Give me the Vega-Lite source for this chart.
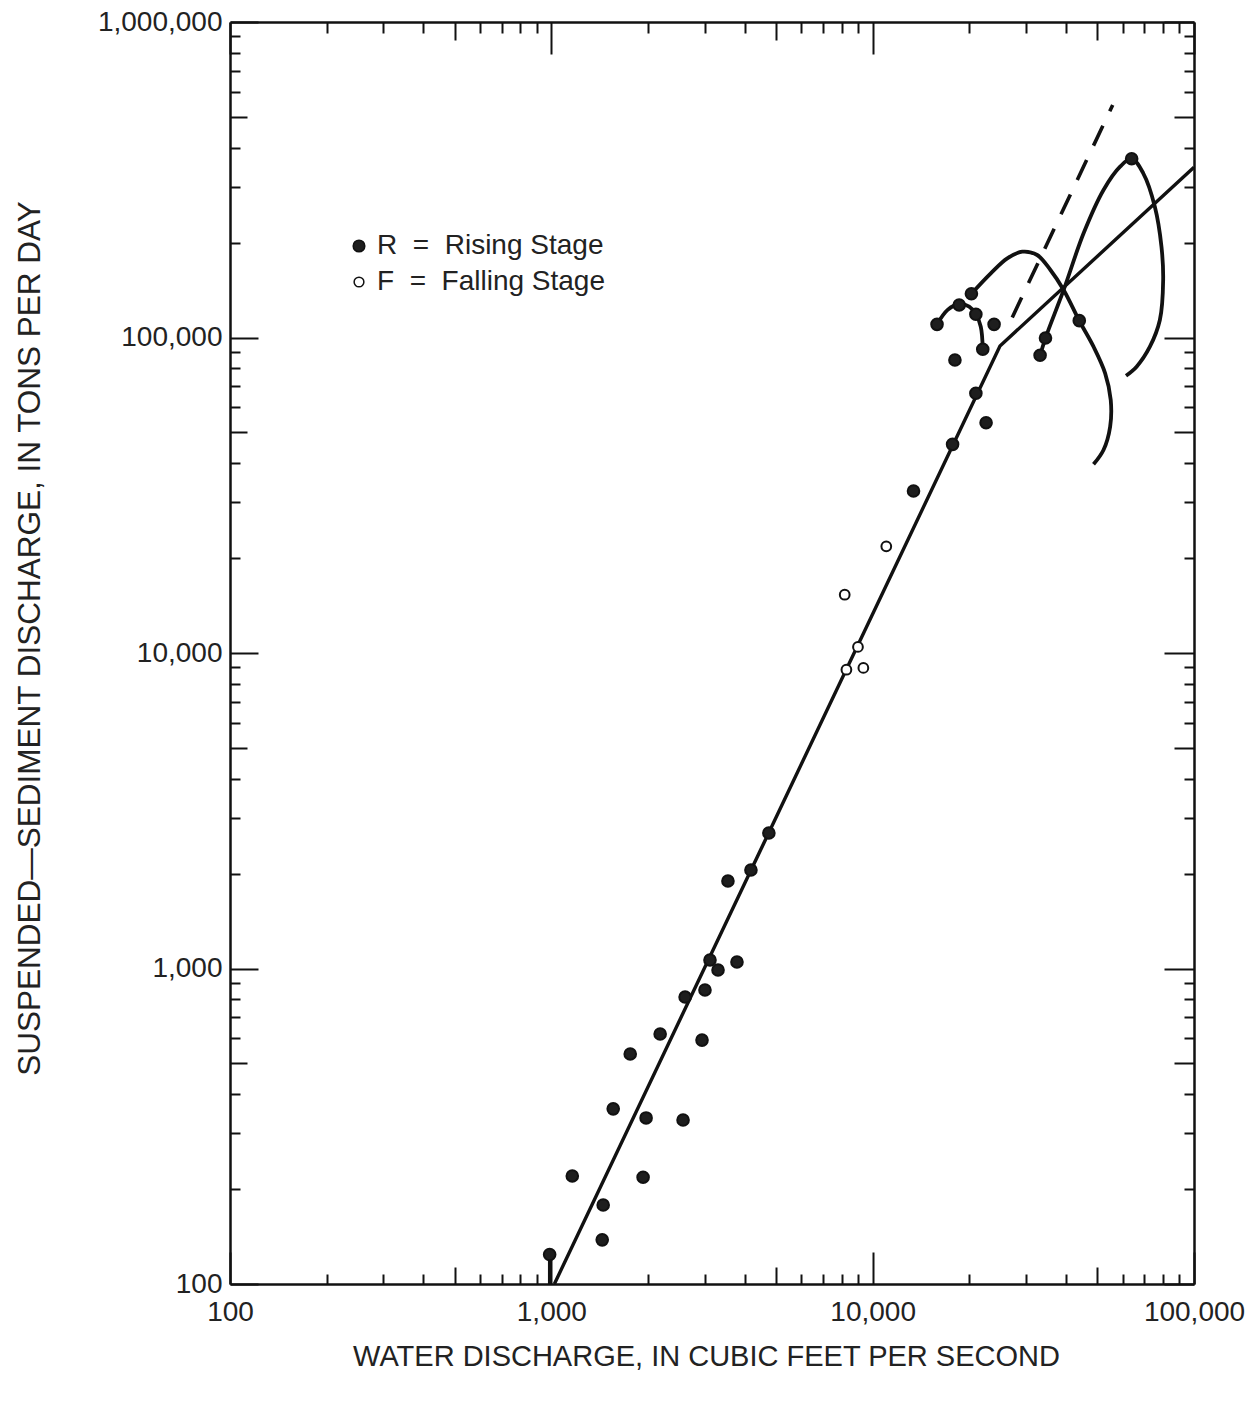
{
  "$schema": "https://vega.github.io/schema/vega-lite/v6.json",
  "width": 964,
  "height": 1262,
  "autosize": "none",
  "padding": {"left": 230, "top": 22, "right": 60, "bottom": 122},
  "background": "white",
  "config": {
    "view": {"stroke": null},
    "font": "Liberation Sans",
    "axis": {
      "grid": false,
      "domainColor": "#111",
      "domainWidth": 2.5,
      "tickColor": "#111",
      "tickWidth": 2,
      "labelColor": "#222",
      "labelFont": "Liberation Sans",
      "labelFontSize": 28,
      "labelFlush": false,
      "labelOverlap": false,
      "labelBound": false,
      "titleFont": "Liberation Sans",
      "titleFontWeight": "normal",
      "titleColor": "#222"
    },
    "legend": {
      "orient": "none",
      "legendX": 115,
      "legendY": 210,
      "padding": 0,
      "labelFont": "Liberation Sans",
      "labelFontSize": 28,
      "labelColor": "#222",
      "labelLimit": 0,
      "labelOffset": 4,
      "rowPadding": 8
    }
  },
  "datasets": {
    "pts": [
      {"q": 988, "s": 124, "stage": "R"},
      {"q": 1162, "s": 220, "stage": "R"},
      {"q": 1450, "s": 178, "stage": "R"},
      {"q": 1440, "s": 138, "stage": "R"},
      {"q": 1558, "s": 359, "stage": "R"},
      {"q": 1760, "s": 536, "stage": "R"},
      {"q": 1930, "s": 218, "stage": "R"},
      {"q": 1972, "s": 336, "stage": "R"},
      {"q": 2181, "s": 620, "stage": "R"},
      {"q": 2570, "s": 331, "stage": "R"},
      {"q": 2608, "s": 812, "stage": "R"},
      {"q": 2944, "s": 593, "stage": "R"},
      {"q": 3007, "s": 855, "stage": "R"},
      {"q": 3117, "s": 1064, "stage": "R"},
      {"q": 3302, "s": 989, "stage": "R"},
      {"q": 3545, "s": 1893, "stage": "R"},
      {"q": 3782, "s": 1049, "stage": "R"},
      {"q": 4180, "s": 2052, "stage": "R"},
      {"q": 4753, "s": 2688, "stage": "R"},
      {"q": 13400, "s": 32620, "stage": "R"},
      {"q": 17730, "s": 45860, "stage": "R"},
      {"q": 15860, "s": 110100, "stage": "R"},
      {"q": 18590, "s": 126800, "stage": "R"},
      {"q": 20290, "s": 137600, "stage": "R"},
      {"q": 20950, "s": 118500, "stage": "R"},
      {"q": 23870, "s": 110100, "stage": "R"},
      {"q": 22010, "s": 91750, "stage": "R"},
      {"q": 18030, "s": 84850, "stage": "R"},
      {"q": 20950, "s": 66550, "stage": "R"},
      {"q": 22540, "s": 53700, "stage": "R"},
      {"q": 34500, "s": 99600, "stage": "R"},
      {"q": 33190, "s": 87830, "stage": "R"},
      {"q": 43950, "s": 113100, "stage": "R"},
      {"q": 63970, "s": 368700, "stage": "R"},
      {"q": 11025, "s": 21780, "stage": "F"},
      {"q": 8185, "s": 15300, "stage": "F"},
      {"q": 9000, "s": 10450, "stage": "F"},
      {"q": 8285, "s": 8850, "stage": "F"},
      {"q": 9355, "s": 8966, "stage": "F"}
    ],
    "fit": [
      {"q": 1022, "s": 100, "g": "fit", "i": 0},
      {"q": 24900, "s": 93980, "g": "fit", "i": 1},
      {"q": 100000, "s": 346300, "g": "fit", "i": 2},
      {"q": 988, "s": 100, "g": "stem", "i": 0},
      {"q": 988, "s": 124, "g": "stem", "i": 1}
    ],
    "dash": [
      {"q": 27190, "s": 115800, "i": 0},
      {"q": 55850, "s": 545700, "i": 1}
    ],
    "loops": [
      {"q": 15860, "s": 110100, "g": "A", "i": 0},
      {"q": 17110, "s": 122300, "g": "A", "i": 1},
      {"q": 18590, "s": 127700, "g": "A", "i": 2},
      {"q": 19970, "s": 125200, "g": "A", "i": 3},
      {"q": 20950, "s": 118500, "g": "A", "i": 4},
      {"q": 21700, "s": 108200, "g": "A", "i": 5},
      {"q": 22010, "s": 91750, "g": "A", "i": 6},
      {"q": 20290, "s": 137700, "g": "B", "i": 0},
      {"q": 23310, "s": 159800, "g": "B", "i": 1},
      {"q": 26240, "s": 178200, "g": "B", "i": 2},
      {"q": 29200, "s": 187100, "g": "B", "i": 3},
      {"q": 32500, "s": 182600, "g": "B", "i": 4},
      {"q": 35750, "s": 163700, "g": "B", "i": 5},
      {"q": 39300, "s": 141500, "g": "B", "i": 6},
      {"q": 43950, "s": 113000, "g": "B", "i": 7},
      {"q": 48680, "s": 93500, "g": "B", "i": 8},
      {"q": 52910, "s": 77000, "g": "B", "i": 9},
      {"q": 55070, "s": 63380, "g": "B", "i": 10},
      {"q": 54830, "s": 52150, "g": "B", "i": 11},
      {"q": 52280, "s": 44000, "g": "B", "i": 12},
      {"q": 48680, "s": 39640, "g": "B", "i": 13},
      {"q": 33200, "s": 87830, "g": "C", "i": 0},
      {"q": 34500, "s": 99630, "g": "C", "i": 1},
      {"q": 39300, "s": 141500, "g": "C", "i": 2},
      {"q": 45330, "s": 213900, "g": "C", "i": 3},
      {"q": 52280, "s": 293400, "g": "C", "i": 4},
      {"q": 58880, "s": 347800, "g": "C", "i": 5},
      {"q": 63960, "s": 368700, "g": "C", "i": 6},
      {"q": 69530, "s": 331400, "g": "C", "i": 7},
      {"q": 75540, "s": 259800, "g": "C", "i": 8},
      {"q": 79210, "s": 194000, "g": "C", "i": 9},
      {"q": 80170, "s": 152200, "g": "C", "i": 10},
      {"q": 78300, "s": 113600, "g": "C", "i": 11},
      {"q": 72900, "s": 93500, "g": "C", "i": 12},
      {"q": 66280, "s": 80830, "g": "C", "i": 13},
      {"q": 61440, "s": 75650, "g": "C", "i": 14}
    ]
  },
  "layer": [
    {
      "encoding": {
        "x": {
          "field": "q", "type": "quantitative",
          "scale": {"type": "log", "domain": [100, 100000], "nice": false},
          "axis": {
            "orient": "bottom",
            "values": [100,200,300,400,500,600,700,800,900,1000,2000,3000,4000,5000,6000,7000,8000,9000,10000,20000,30000,40000,50000,60000,70000,80000,90000,100000],
            "labelExpr": "indexof([100,1000,10000,100000], datum.value) >= 0 ? format(datum.value, ',') : ''",
            "tickSize": {"condition": [{"test": "indexof([100,1000,10000,100000], datum.value) >= 0", "value": -32}, {"test": "indexof([500,5000,50000], datum.value) >= 0", "value": -17}], "value": -10},
            "labelPadding": 46,
            "labelBaseline": "top",
            "title": "WATER DISCHARGE, IN CUBIC FEET PER SECOND",
            "titleFontSize": 29,
            "titleX": 476,
            "titleY": 81,
            "titleBaseline": "alphabetic",
            "titleAnchor": "middle",
            "titleAlign": "center"
          }
        },
        "y": {
          "field": "s", "type": "quantitative",
          "scale": {"type": "log", "domain": [100, 1000000], "nice": false},
          "axis": {
            "orient": "left",
            "values": [100,200,300,400,500,600,700,800,900,1000,2000,3000,4000,5000,6000,7000,8000,9000,10000,20000,30000,40000,50000,60000,70000,80000,90000,100000,200000,300000,400000,500000,600000,700000,800000,900000,1000000],
            "labelExpr": "indexof([100,1000,10000,100000,1000000], datum.value) >= 0 ? format(datum.value, ',') : ''",
            "tickSize": {"condition": [{"test": "indexof([100,1000,10000,100000,1000000], datum.value) >= 0", "value": -28}, {"test": "indexof([500,5000,50000,500000], datum.value) >= 0", "value": -17}], "value": -10},
            "labelPadding": 36,
            "title": "SUSPENDED\u2014SEDIMENT DISCHARGE, IN TONS PER DAY",
            "titleFontSize": 31.5,
            "titleX": -191,
            "titleY": 616,
            "titleAngle": -90,
            "titleBaseline": "alphabetic",
            "titleAlign": "center",
            "titleAnchor": "middle"
          }
        }
      },
      "layer": [
        {
          "data": {"name": "fit"},
          "mark": {"type": "line", "color": "#111", "strokeWidth": 3.4},
          "encoding": {"detail": {"field": "g"}, "order": {"field": "i", "type": "quantitative"}}
        },
        {
          "data": {"name": "dash"},
          "mark": {"type": "line", "color": "#111", "strokeWidth": 3.6, "strokeDash": [22, 16]},
          "encoding": {"order": {"field": "i", "type": "quantitative"}}
        },
        {
          "data": {"name": "loops"},
          "mark": {"type": "line", "color": "#111", "strokeWidth": 3.8, "interpolate": "catmull-rom"},
          "encoding": {"detail": {"field": "g"}, "order": {"field": "i", "type": "quantitative"}}
        },
        {
          "data": {"name": "pts"},
          "mark": {"type": "point", "filled": true, "stroke": "#111", "strokeWidth": 2, "opacity": 1},
          "encoding": {
            "fill": {
              "field": "stage", "type": "nominal",
              "scale": {"domain": ["R", "F"], "range": ["#1e1e1e", "#ffffff"]},
              "legend": {
                "title": null,
                "labelExpr": "datum.label == 'R' ? 'R\u00a0\u00a0=\u00a0\u00a0Rising Stage' : 'F\u00a0\u00a0=\u00a0\u00a0Falling Stage'",
                "encode": {"symbols": {"update": {"stroke": {"value": "#111"}, "strokeWidth": {"value": 1.8}}}}
              }
            },
            "size": {
              "field": "stage", "type": "nominal",
              "scale": {"domain": ["R", "F"], "range": [135, 95]},
              "legend": {
                "title": null,
                "labelExpr": "datum.label == 'R' ? 'R\u00a0\u00a0=\u00a0\u00a0Rising Stage' : 'F\u00a0\u00a0=\u00a0\u00a0Falling Stage'",
                "encode": {"symbols": {"update": {"stroke": {"value": "#111"}, "strokeWidth": {"value": 1.8}}}}
              }
            }
          }
        }
      ]
    },
    {
      "data": {"name": "pts"},
      "mark": {"type": "point", "opacity": 0},
      "encoding": {
        "x": {
          "field": "q", "type": "quantitative",
          "scale": {"type": "log", "domain": [100, 100000], "nice": false},
          "axis": {
            "orient": "top",
            "values": [100,200,300,400,500,600,700,800,900,1000,2000,3000,4000,5000,6000,7000,8000,9000,10000,20000,30000,40000,50000,60000,70000,80000,90000,100000],
            "labels": false,
            "title": null,
            "tickSize": {"condition": [{"test": "indexof([100,1000,10000,100000], datum.value) >= 0", "value": -32}, {"test": "indexof([500,5000,50000], datum.value) >= 0", "value": -18}], "value": -11}
          }
        },
        "y": {
          "field": "s", "type": "quantitative",
          "scale": {"type": "log", "domain": [100, 1000000], "nice": false},
          "axis": {
            "orient": "right",
            "values": [100,200,300,400,500,600,700,800,900,1000,2000,3000,4000,5000,6000,7000,8000,9000,10000,20000,30000,40000,50000,60000,70000,80000,90000,100000,200000,300000,400000,500000,600000,700000,800000,900000,1000000],
            "labels": false,
            "title": null,
            "tickSize": {"condition": [{"test": "indexof([100,1000,10000,100000,1000000], datum.value) >= 0", "value": -30}, {"test": "indexof([500,5000,50000,500000], datum.value) >= 0", "value": -20}], "value": -10}
          }
        }
      }
    }
  ],
  "resolve": {"axis": {"x": "independent", "y": "independent"}}
}
